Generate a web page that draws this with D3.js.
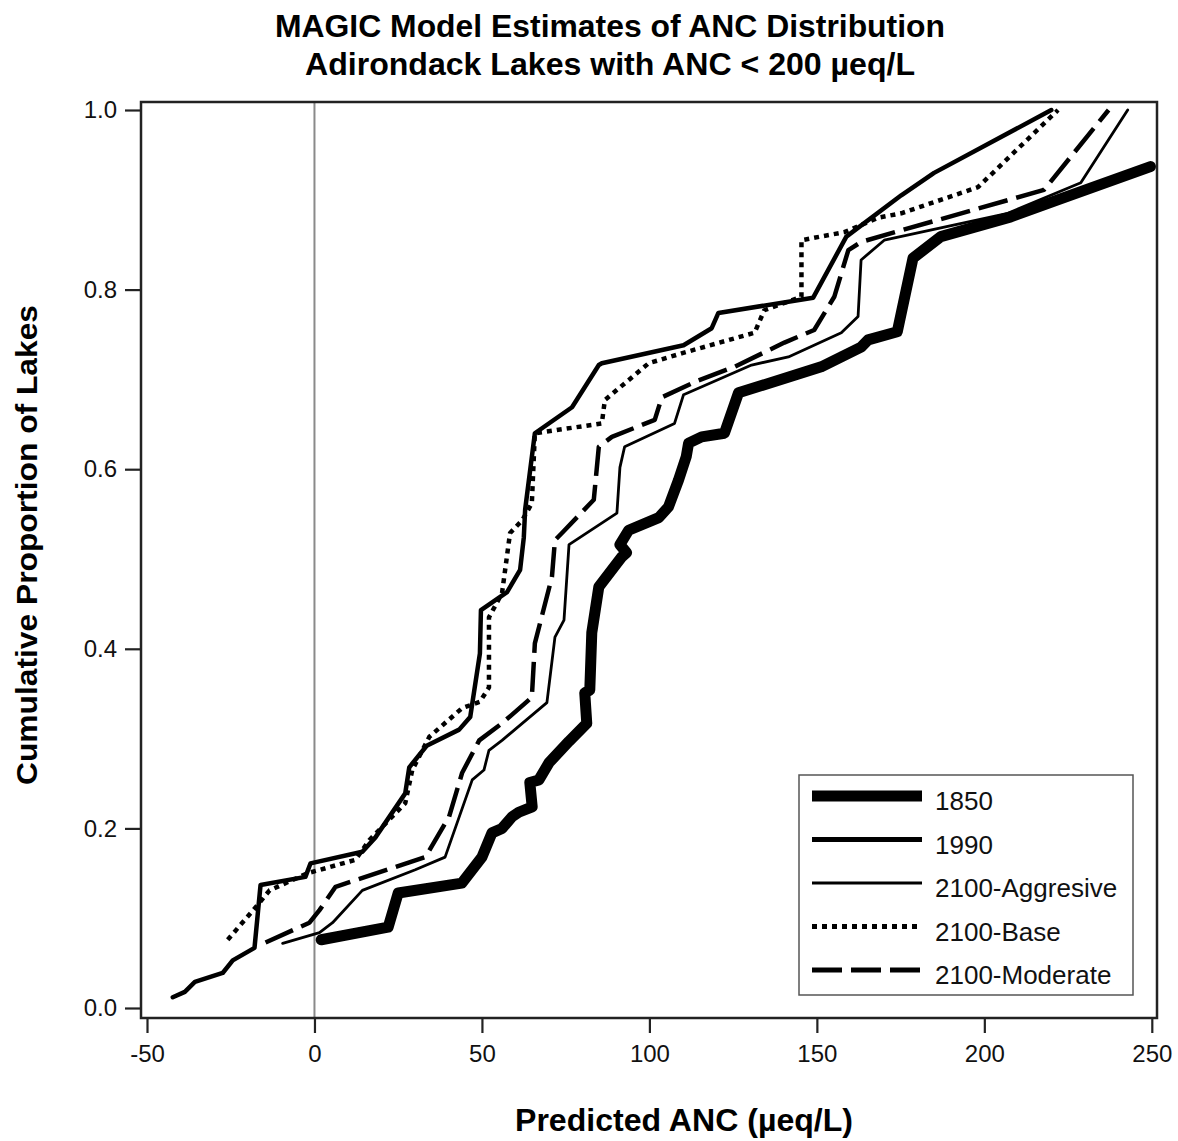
<!DOCTYPE html>
<html>
<head>
<meta charset="utf-8">
<script src="https://cdn.jsdelivr.net/npm/d3@7/dist/d3.min.js"></script>
<style>
  html, body { margin: 0; padding: 0; background: #fff; }
  svg { display: block; font-family: "Liberation Sans", Arial, sans-serif; }
</style>
</head>
<body>
<svg id="chart" width="1178" height="1141"></svg>
<script>
// ---- Data ----
const xTicks = [-50, 0, 50, 100, 150, 200, 250];
const yTicks = [0.0, 0.2, 0.4, 0.6, 0.8, 1.0];
const seriesNames = ["1850", "1990", "2100-Aggresive", "2100-Base", "2100-Moderate"];

const anc1850  = [2, 22, 25, 44, 50, 53, 56, 59, 61, 65, 64.3, 67, 70, 76, 81.3, 80.7, 82.2, 82.8, 84.9, 91.7, 93.2, 91.2, 93.8, 102.8, 105.7, 108.7, 111, 111.7, 115.6, 122.4, 126.6, 151.3, 163.2, 165.3, 174, 178.7, 187, 207.9, 221.9, 249.6];
const prop1850 = [0.076, 0.09, 0.128, 0.139, 0.168, 0.195, 0.2, 0.213, 0.218, 0.224, 0.251, 0.254, 0.273, 0.297, 0.317, 0.351, 0.354, 0.418, 0.469, 0.502, 0.507, 0.516, 0.532, 0.546, 0.558, 0.588, 0.614, 0.629, 0.636, 0.640, 0.685, 0.714, 0.736, 0.744, 0.753, 0.835, 0.859, 0.881, 0.9, 0.937];

const anc1990  = [-42.3, -38.7, -35.7, -27.4, -24.4, -17.9, -16.1, -2.7, -1.2, 14.3, 18.2, 27.1, 28.3, 33.5, 43.2, 46.5, 49.4, 49.7, 57.5, 61.4, 62.5, 62.9, 65.8, 76.9, 84.9, 85.8, 110.2, 118.6, 120.6, 148.9, 158.8, 175.2, 185, 220];
const prop1990 = [0.012, 0.018, 0.029, 0.039, 0.053, 0.067, 0.137, 0.146, 0.161, 0.174, 0.19, 0.239, 0.268, 0.292, 0.31, 0.324, 0.395, 0.443, 0.463, 0.488, 0.524, 0.555, 0.640, 0.669, 0.716, 0.718, 0.738, 0.757, 0.774, 0.791, 0.859, 0.905, 0.93, 1.0];

const ancAggr  = [-9.5, 1.5, 5.4, 14.3, 30.1, 39, 47.1, 50.6, 52.1, 56, 69.4, 71.8, 74.5, 76, 90.3, 91.2, 92.6, 107.5, 110.2, 130.5, 141.5, 157.3, 162.3, 163.2, 170.1, 207, 228.8, 242.8];
const propAggr = [0.072, 0.084, 0.095, 0.131, 0.154, 0.168, 0.254, 0.265, 0.287, 0.298, 0.34, 0.413, 0.432, 0.516, 0.551, 0.602, 0.625, 0.651, 0.683, 0.716, 0.725, 0.752, 0.770, 0.833, 0.855, 0.885, 0.919, 1.0];

const ancBase  = [-25.9, -17.6, -13.4, -2.1, 12.2, 16.4, 27.1, 29.2, 34.3, 44.1, 49.4, 52.1, 52.1, 56, 58.4, 62, 64.9, 65.8, 85.8, 86.7, 99.8, 109.6, 131.4, 134.3, 142.4, 145.4, 145.4, 158.2, 168.3, 175.2, 198.1, 222];
const propBase = [0.076, 0.112, 0.131, 0.150, 0.165, 0.187, 0.228, 0.265, 0.302, 0.334, 0.341, 0.357, 0.435, 0.462, 0.529, 0.543, 0.562, 0.640, 0.651, 0.677, 0.718, 0.729, 0.752, 0.777, 0.788, 0.792, 0.855, 0.864, 0.88, 0.885, 0.914, 1.0];

const ancMod   = [-14.6, -1.5, 1.5, 6.3, 33.1, 40.2, 44.1, 49.2, 56, 64.9, 65.8, 70.9, 71.8, 73.9, 83.4, 84.9, 88.8, 101.6, 103.7, 114.7, 125.4, 140.3, 149.2, 155.2, 159.4, 163.2, 175.2, 217.8, 237.1];
const propMod  = [0.073, 0.095, 0.109, 0.135, 0.168, 0.213, 0.262, 0.298, 0.317, 0.346, 0.406, 0.48, 0.521, 0.529, 0.566, 0.625, 0.636, 0.655, 0.680, 0.699, 0.714, 0.741, 0.755, 0.792, 0.844, 0.853, 0.866, 0.911, 1.0];

// ---- Styles ----
const styles = [
  { width: 11,  dash: null,   legendWidth: 11 },
  { width: 4.5, dash: null,   legendWidth: 5 },
  { width: 2.8, dash: null,   legendWidth: 3 },
  { width: 4.5, dash: "5,5",  legendWidth: 5 },
  { width: 4.5, dash: "30,9", legendWidth: 5 }
];
const seriesData = [
  [anc1850, prop1850], [anc1990, prop1990], [ancAggr, propAggr], [ancBase, propBase], [ancMod, propMod]
];

// ---- Layout ----
const plot = { left: 141, top: 102, right: 1157, bottom: 1018 };
const svg = d3.select("#chart");

const x = d3.scaleLinear().domain([-50, 250]).range([147, 1151.8]);
const y = d3.scaleLinear().domain([0, 1]).range([1008, 110]);

// Zero reference line
svg.append("line")
  .attr("x1", x(0)).attr("x2", x(0))
  .attr("y1", plot.top).attr("y2", plot.bottom)
  .attr("stroke", "#8a8a8a").attr("stroke-width", 2);

// Series lines
const line = d3.line().x(d => x(d[0])).y(d => y(d[1]));
seriesData.forEach((s, i) => {
  const pts = s[0].map((v, j) => [v, s[1][j]]);
  svg.append("path")
    .attr("d", line(pts))
    .attr("fill", "none")
    .attr("stroke", "#000")
    .attr("stroke-width", styles[i].width)
    .attr("stroke-linejoin", "round")
    .attr("stroke-linecap", styles[i].dash ? "butt" : "round")
    .attr("stroke-dasharray", styles[i].dash);
});

// Plot border
svg.append("rect")
  .attr("x", plot.left).attr("y", plot.top)
  .attr("width", plot.right - plot.left).attr("height", plot.bottom - plot.top)
  .attr("fill", "none").attr("stroke", "#222").attr("stroke-width", 2.5);

// X axis
const xAxis = svg.append("g")
  .attr("transform", `translate(0,${plot.bottom})`)
  .call(d3.axisBottom(x).tickValues(xTicks).tickSize(15).tickPadding(12).tickFormat(d => String(d)));
xAxis.select(".domain").remove();
xAxis.selectAll(".tick line").attr("stroke", "#222").attr("stroke-width", 2.2);
xAxis.selectAll(".tick text").attr("font-size", 24).attr("fill", "#111")
  .attr("font-family", "Liberation Sans, Arial, sans-serif");

// Y axis
const yAxis = svg.append("g")
  .attr("transform", `translate(${plot.left},0)`)
  .call(d3.axisLeft(y).tickValues(yTicks).tickSize(16).tickPadding(8).tickFormat(d3.format(".1f")));
yAxis.select(".domain").remove();
yAxis.selectAll(".tick line").attr("stroke", "#222").attr("stroke-width", 2.2);
yAxis.selectAll(".tick text").attr("font-size", 24).attr("fill", "#111")
  .attr("font-family", "Liberation Sans, Arial, sans-serif");

// Titles
svg.append("text").attr("x", 610).attr("y", 37)
  .attr("text-anchor", "middle").attr("font-weight", "bold").attr("font-size", 31)
  .attr("textLength", 670).attr("lengthAdjust", "spacingAndGlyphs")
  .text("MAGIC Model Estimates of ANC Distribution");
svg.append("text").attr("x", 610).attr("y", 75)
  .attr("text-anchor", "middle").attr("font-weight", "bold").attr("font-size", 31)
  .attr("textLength", 610).attr("lengthAdjust", "spacingAndGlyphs")
  .text("Adirondack Lakes with ANC < 200 µeq/L");

// Axis labels
svg.append("text").attr("x", 684).attr("y", 1131)
  .attr("text-anchor", "middle").attr("font-weight", "bold").attr("font-size", 31)
  .attr("textLength", 338).attr("lengthAdjust", "spacingAndGlyphs")
  .text("Predicted ANC (µeq/L)");
svg.append("text")
  .attr("transform", "translate(37,545) rotate(-90)")
  .attr("text-anchor", "middle").attr("font-weight", "bold").attr("font-size", 30)
  .attr("textLength", 480).attr("lengthAdjust", "spacingAndGlyphs")
  .text("Cumulative Proportion of Lakes");

// Legend
const legend = svg.append("g");
legend.append("rect")
  .attr("x", 799).attr("y", 775).attr("width", 334).attr("height", 220)
  .attr("fill", "#fff").attr("stroke", "#555").attr("stroke-width", 1.5);
seriesNames.forEach((name, i) => {
  const ly = 796 + i * 43.5;
  legend.append("line")
    .attr("x1", 812).attr("x2", 922).attr("y1", ly).attr("y2", ly)
    .attr("stroke", "#000").attr("stroke-width", styles[i].legendWidth)
    .attr("stroke-dasharray", styles[i].dash);
  legend.append("text")
    .attr("x", 935).attr("y", ly + 14)
    .attr("font-size", 26).attr("fill", "#111")
    .text(name);
});
</script>
</body>
</html>
